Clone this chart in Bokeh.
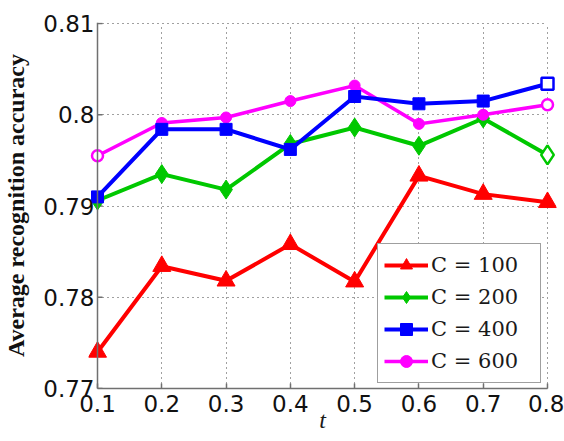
from bokeh.plotting import figure
from bokeh.models import (Range1d, FixedTicker, CustomJSTickFormatter, Legend,
                          LegendItem, Span, ColumnDataSource)
from bokeh.embed import file_html
from bokeh.resources import INLINE

# Parameter t on the x axis
t_values = [0.1, 0.2, 0.3, 0.4, 0.5, 0.6, 0.7, 0.8]

# Average recognition accuracy for each number of clusters C
acc_c100 = [0.7740, 0.7834, 0.7818, 0.7858, 0.7817, 0.7933, 0.7913, 0.7904]
acc_c200 = [0.7906, 0.7935, 0.7918, 0.7968, 0.7986, 0.7966, 0.7996, 0.7956]
acc_c400 = [0.7910, 0.7984, 0.7984, 0.7962, 0.8020, 0.8012, 0.8015, 0.8034]
acc_c600 = [0.7955, 0.7991, 0.7997, 0.8015, 0.8032, 0.7990, 0.8000, 0.8011]

series_labels = ["C = 100", "C = 200", "C = 400", "C = 600"]
x_ticks = [0.1, 0.2, 0.3, 0.4, 0.5, 0.6, 0.7, 0.8]
y_ticks = [0.77, 0.78, 0.79, 0.80, 0.81]

series_values = {
    "C = 100": acc_c100,
    "C = 200": acc_c200,
    "C = 400": acc_c400,
    "C = 600": acc_c600,
}

styles = {
    "C = 100": dict(color="#ff0000", marker="triangle", size=18, lw=4),
    "C = 200": dict(color="#00c800", marker="diamond", size=19, lw=4),
    "C = 400": dict(color="#0000ff", marker="square", size=12, lw=4),
    "C = 600": dict(color="#ff00ff", marker="circle", size=11, lw=3.5),
}
# markers drawn open (white centre) at these positions
open_markers = {"C = 200": [7], "C = 400": [7], "C = 600": [0, 7]}

AXIS_GRAY = "#707070"

x_lo, x_hi = x_ticks[0], x_ticks[-1]
y_lo, y_hi = y_ticks[0], y_ticks[-1]
# a little room left/right so the end markers are not cut by the frame
pad_x = (x_hi - x_lo) * 9 / 450
pad_y = (y_hi - y_lo) * 1 / 365

p = figure(width=564, height=441,
           x_range=Range1d(x_lo - pad_x, x_hi + pad_x),
           y_range=Range1d(y_lo, y_hi + pad_y),
           min_border_left=88, min_border_right=8,
           min_border_top=22, min_border_bottom=53,
           output_backend="svg", toolbar_location=None, tools="")
p.outline_line_color = None
p.background_fill_color = "white"
p.border_fill_color = "white"

fmt = CustomJSTickFormatter(code="return String(Math.round(tick * 100) / 100);")

for ax, ticks in ((p.xaxis[0], x_ticks), (p.yaxis[0], y_ticks)):
    ax.ticker = FixedTicker(ticks=ticks)
    ax.formatter = fmt
    ax.minor_tick_line_color = None
    ax.major_tick_out = 0
    ax.major_label_text_font = "DejaVu Sans"
    ax.major_label_text_font_size = "23px"
    ax.major_label_text_color = "#111111"

# bottom axis: solid line between the first and last tick, ticks pointing inward
xa = p.xaxis[0]
xa.bounds = (x_lo, x_hi)
xa.axis_line_color = AXIS_GRAY
xa.axis_line_width = 1.5
xa.major_tick_line_color = AXIS_GRAY
xa.major_tick_line_width = 1.5
xa.major_tick_in = 5
xa.major_label_standoff = 6
xa.axis_label = "t"
xa.axis_label_text_font = "Liberation Serif"
xa.axis_label_text_font_style = "italic"
xa.axis_label_text_font_size = "24px"
xa.axis_label_text_color = "#1a1a1a"
xa.axis_label_standoff = -8

# left axis: labels only; its line and ticks are drawn at t = 0.1 below
ya = p.yaxis[0]
ya.axis_line_color = None
ya.major_tick_line_color = None
ya.major_tick_in = 0
ya.major_label_standoff = -6
ya.axis_label = "Average recognition accuracy"
ya.axis_label_text_font = "Liberation Serif"
ya.axis_label_text_font_style = "bold"
ya.axis_label_text_font_size = "24px"
ya.axis_label_text_color = "#111111"
ya.axis_label_standoff = 11

for grid, ticks, cross in ((p.xgrid[0], x_ticks, (y_lo, y_hi)),
                           (p.ygrid[0], y_ticks, (x_lo, x_hi))):
    grid.ticker = FixedTicker(ticks=ticks)
    grid.cross_bounds = cross
    grid.grid_line_color = "#404040"
    grid.grid_line_width = 1
    grid.grid_line_dash = "1 4"

p.add_layout(Span(location=x_lo, dimension="height", line_color=AXIS_GRAY,
                  line_width=1.5))
p.ray(x=[x_lo] * len(y_ticks), y=y_ticks, length=5, length_units="screen",
      angle=0, line_color=AXIS_GRAY, line_width=1.5)

# draw order: red, green, magenta, blue on top
draw_order = ["C = 100", "C = 200", "C = 600", "C = 400"]
renderers = {}
for name in draw_order:
    st = styles[name]
    vals = series_values[name]
    fills = [st["color"]] * len(vals)
    widths = [1.0] * len(vals)
    for i in open_markers.get(name, []):
        fills[i] = "white"
        widths[i] = 2.5
    src = ColumnDataSource(dict(t=t_values, acc=vals, fill=fills, lw=widths))
    line_r = p.line("t", "acc", source=src, line_color=st["color"],
                    line_width=st["lw"], line_join="miter")
    mark_r = p.scatter("t", "acc", source=src, marker=st["marker"], size=st["size"],
                       fill_color="fill", line_color=st["color"], line_width="lw")
    renderers[name] = (line_r, mark_r)

items = [LegendItem(label=name, renderers=list(renderers[name]), index=1)
         for name in series_labels]
legend = Legend(items=items, location=(289, 5), margin=0, padding=6, spacing=2,
                glyph_width=44, glyph_height=30, label_height=24, label_width=103,
                label_standoff=3, label_text_font="DejaVu Serif",
                label_text_font_size="21px", label_text_color="#1a1a1a",
                border_line_color="#404040", border_line_width=1,
                background_fill_color="white", background_fill_alpha=1.0)
p.add_layout(legend)

open("out.html", "w").write(file_html(p, INLINE))
